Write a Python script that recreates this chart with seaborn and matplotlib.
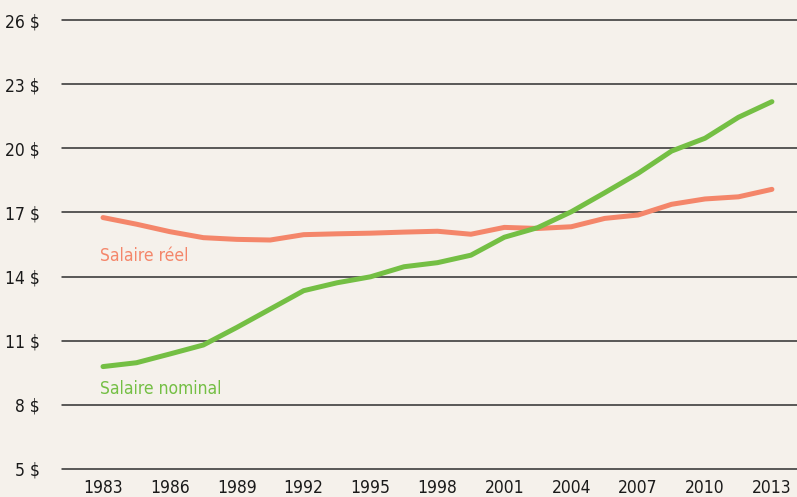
import pandas as pd
import matplotlib.pyplot as plt
import seaborn as sns

# Data (21 points, every 1.5 years, 1983-2013)
periods = list(range(21))
tick_years = [1983, 1986, 1989, 1992, 1995, 1998, 2001, 2004, 2007, 2010, 2013]
salaire_reel = [16.76, 16.45, 16.10, 15.82, 15.74, 15.71, 15.96, 16.00, 16.03, 16.08, 16.12,
                15.98, 16.30, 16.25, 16.33, 16.72, 16.88, 17.38, 17.63, 17.73, 18.08]
salaire_nominal = [9.79, 9.97, 10.38, 10.80, 11.62, 12.48, 13.34, 13.71, 13.99, 14.46, 14.65,
                   15.00, 15.84, 16.29, 17.03, 17.92, 18.83, 19.87, 20.47, 21.45, 22.18]
y_ticks = [5, 8, 11, 14, 17, 20, 23, 26]

df = pd.DataFrame({
    'periode': periods * 2,
    'salaire': salaire_reel + salaire_nominal,
    'serie': ['Salaire réel'] * 21 + ['Salaire nominal'] * 21,
})

bg = '#f5f1eb'
red = '#f4866a'
green = '#74bf44'

sns.set_style('white')
plt.rcParams['font.family'] = ['DejaVu Sans']
plt.rcParams['font.stretch'] = 'condensed'

fig = plt.figure(figsize=(7.97, 4.97), dpi=100, facecolor=bg)
ax = fig.add_axes([62 / 797, 28 / 497, 735 / 797, 449 / 497], facecolor=bg)

sns.lineplot(data=df, x='periode', y='salaire', hue='serie',
             palette={'Salaire réel': red, 'Salaire nominal': green},
             linewidth=3.6, legend=False, ax=ax, zorder=3)

ax.set_xlim(-1.226, 20.75)
ax.set_ylim(5, 26)
ax.set_yticks(y_ticks)
ax.set_yticklabels([f'{v} $' for v in y_ticks])
ax.set_xticks(periods[::2])
ax.set_xticklabels([str(y) for y in tick_years])
for v in y_ticks:
    ax.axhline(v, color='#2e2e2e', linewidth=1.1, zorder=1, clip_on=False)

ax.tick_params(axis='y', length=0, pad=16, labelsize=12.5, labelcolor='#1a1a1a')
ax.tick_params(axis='x', length=0, pad=7.5, labelsize=12.5, labelcolor='#1a1a1a')
ax.set_xlabel('')
ax.set_ylabel('')
sns.despine(ax=ax, left=True, bottom=True)

ax.text(-0.1, 14.95, 'Salaire réel', color=red, fontsize=12.5, va='center')
ax.text(-0.1, 8.75, 'Salaire nominal', color=green, fontsize=12.5, va='center')

fig.savefig('out.png', dpi=100, facecolor=bg)
